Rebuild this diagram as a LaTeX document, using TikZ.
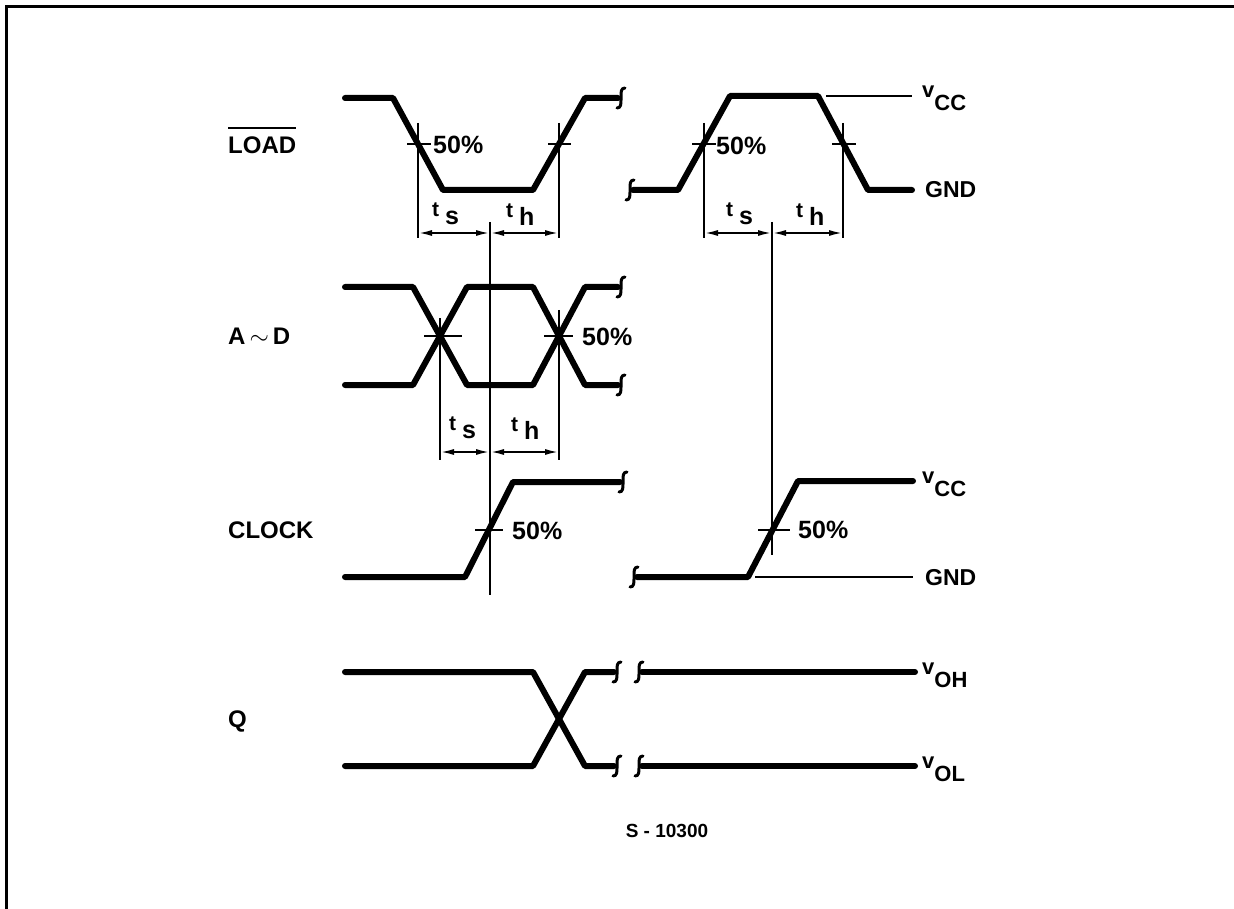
\documentclass[tikz,border=0pt]{standalone}
\usepackage{fontspec}
\setmainfont{Liberation Sans}
\usetikzlibrary{arrows.meta}
\newcommand{\vlab}[1]{{\fontsize{22}{22}\selectfont\bfseries v\raisebox{-13pt}{#1}}}
\newcommand{\tlab}[1]{{\fontsize{21}{21}\selectfont\bfseries t}\hspace{6pt}\raisebox{-8pt}{\fontsize{25}{25}\selectfont\bfseries #1}}
\begin{document}
\begin{tikzpicture}[x=1pt,y=-1pt,
  wave/.style={line width=6pt, line join=round, line cap=round},
  thinl/.style={line width=2pt},
  refl/.style={line width=2.2pt},
  dimarr/.style={line width=2pt, {Latex[length=14pt,width=6pt]}-{Latex[length=14pt,width=6pt]}},
  sig/.style={font=\fontsize{24}{24}\selectfont\bfseries, inner sep=0pt, anchor=base west},
  pct/.style={font=\fontsize{25}{25}\selectfont\bfseries, inner sep=0pt, anchor=base west},
  lvl/.style={font=\fontsize{23}{23}\selectfont\bfseries, inner sep=0pt, anchor=base west},
  tl/.style={inner sep=0pt, anchor=base west},
  brkmark/.pic={\draw[line width=3pt, line cap=round] (4,-10) .. controls (0,-10) and (0,-6) .. (0,-2) -- (0,2) .. controls (0,6) and (0,10) .. (-4,10);}
]
\useasboundingbox (0,0) rectangle (1234,909);
% frame
\draw[line width=3pt] (6,909) -- (6,6.5) -- (1234,6.5);

% ---------- signal labels ----------
\node[sig] (load) at (228,154) {LOAD};
\draw[thinl] ([yshift=9pt]load.north west) -- ([yshift=9pt]load.north east);
\node[sig] (ad) at (228,344) {A\,$\sim$\,D};
\node[sig] (clock) at (228,538) {CLOCK};
\node[sig] (q) at (228,727) {Q};

% ---------- LOAD left ----------
\draw[wave] (345,98) -- (393,98) -- (443,190) -- (533,190) -- (585,98) -- (618,98);
\pic at (621,98) {brkmark};
\draw[thinl] (407,144) -- (431,144);
\draw[thinl] (548,144) -- (571,144);
\node[pct] (p1) at (433,154) {50\%};
\coordinate (l1t) at (418,123); \coordinate (l1b) at (418,238);
\coordinate (l2t) at (559,123); \coordinate (l2b) at (559,238);
\draw[refl] (l1t) -- (l1b);
\draw[refl] (l2t) -- (l2b);
\coordinate (c1t) at (490,222); \coordinate (c1b) at (490,595);
\draw[refl] (c1t) -- (c1b);
\coordinate (d1a) at (418,233); \coordinate (d1m) at (490,233); \coordinate (d1b) at (559,233);
\draw[dimarr] (d1a) -- (d1m);
\draw[dimarr] (d1m) -- (d1b);
\node[tl] (ts1) at (432,217) {\tlab{s}};
\node[tl] (th1) at (506,218) {\tlab{h}};

% ---------- LOAD right ----------
\pic at (630,190) {brkmark};
\draw[wave] (633,190) -- (678,190) -- (730,96) -- (818,96) -- (868,190) -- (912,190);
\draw[thinl] (826,96) -- (912,96);
\node[tl] (vcc1) at (922,98) {\vlab{CC}};
\node[lvl] (gnd1) at (925,198) {GND};
\draw[thinl] (692,144) -- (716,144);
\draw[thinl] (832,144) -- (856,144);
\node[pct] (p2) at (716,155) {50\%};
\coordinate (r1t) at (704,123); \coordinate (r1b) at (704,238);
\coordinate (r2t) at (843,123); \coordinate (r2b) at (843,238);
\draw[refl] (r1t) -- (r1b);
\draw[refl] (r2t) -- (r2b);
\coordinate (c2t) at (772,222); \coordinate (c2b) at (772,555);
\draw[refl] (c2t) -- (c2b);
\coordinate (d2a) at (704,233); \coordinate (d2m) at (772,233); \coordinate (d2b) at (843,233);
\draw[dimarr] (d2a) -- (d2m);
\draw[dimarr] (d2m) -- (d2b);
\node[tl] (ts2) at (726,217) {\tlab{s}};
\node[tl] (th2) at (796,218) {\tlab{h}};

% ---------- A ~ D ----------
\draw[wave] (345,287) -- (413,287) -- (467,385) -- (533,385) -- (585,287) -- (618,287);
\draw[wave] (345,385) -- (413,385) -- (467,287) -- (533,287) -- (585,385) -- (618,385);
\pic at (621,287) {brkmark};
\pic at (621,385) {brkmark};
\draw[thinl] (424,336) -- (462,336);
\draw[thinl] (544,336) -- (573,336);
\node[pct] (p3) at (582,345) {50\%};
\coordinate (a1t) at (440,318); \coordinate (a1b) at (440,460);
\coordinate (a2t) at (559,310); \coordinate (a2b) at (559,460);
\draw[refl] (a1t) -- (a1b);
\draw[refl] (a2t) -- (a2b);
\coordinate (d3a) at (440,452); \coordinate (d3m) at (490,452); \coordinate (d3b) at (559,452);
\draw[dimarr] (d3a) -- (d3m);
\draw[dimarr] (d3m) -- (d3b);
\node[tl] (ts3) at (449,430) {\tlab{s}};
\node[tl] (th3) at (511,431) {\tlab{h}};

% ---------- CLOCK ----------
\draw[wave] (345,577) -- (465,577) -- (513,482) -- (620,482);
\pic at (623,482) {brkmark};
\draw[thinl] (475,530) -- (503,530);
\node[pct] (p4) at (512,539) {50\%};

\pic at (634,577) {brkmark};
\draw[wave] (637,577) -- (748,577) -- (798,481) -- (913,481);
\draw[thinl] (755,577) -- (913,577);
\draw[thinl] (758,530) -- (790,530);
\node[pct] (p5) at (798,538) {50\%};
\node[tl] (vcc2) at (922,483) {\vlab{CC}};
\node[lvl] (gnd2) at (925,585) {GND};

% ---------- Q ----------
\draw[wave] (345,672) -- (533,672) -- (585,766) -- (614,766);
\draw[wave] (345,766) -- (533,766) -- (585,672) -- (614,672);
\pic at (617,672) {brkmark};
\pic at (617,766) {brkmark};
\pic at (639,672) {brkmark};
\pic at (639,766) {brkmark};
\draw[wave] (642,672) -- (915,672);
\draw[wave] (642,766) -- (915,766);
\node[tl] (voh) at (922,674) {\vlab{OH}};
\node[tl] (vol) at (922,768) {\vlab{OL}};

% ---------- figure number ----------
\node[font=\fontsize{19}{19}\selectfont\bfseries, inner sep=0pt, anchor=base] (fig) at (667,837) {S - 10300};
\end{tikzpicture}
\end{document}
